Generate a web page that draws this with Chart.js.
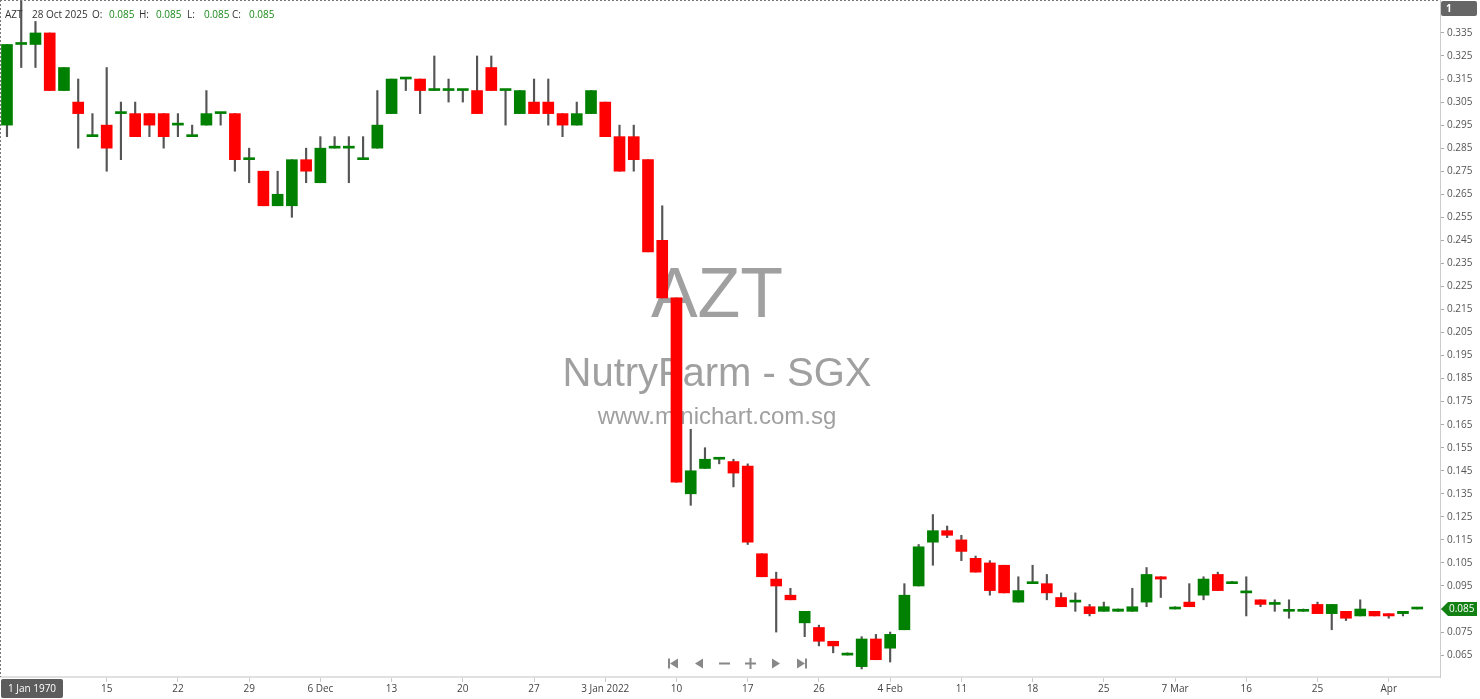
<!DOCTYPE html>
<html>
<head>
  <style>
    html, body { margin: 0; padding: 0; background: #fff; }
    .chart-container { position: relative; width: 1480px; height: 699px; }
  </style>
  <script src="https://cdn.jsdelivr.net/npm/chart.js"></script>
</head>
<body>
  <div class="chart-container">
    <canvas id="priceChart"></canvas>
  </div>

  <script>
    // daily candles, oldest first
    const opens  = [0.295,0.33,0.33,0.335,0.31,0.305,0.29,0.295,0.30,0.30,
                    0.30,0.30,0.295,0.29,0.295,0.30,0.30,0.28,0.275,0.26,
                    0.26,0.28,0.27,0.285,0.285,0.28,0.285,0.30,0.315,0.315,
                    0.31,0.31,0.31,0.31,0.32,0.31,0.30,0.305,0.305,0.30,
                    0.295,0.30,0.305,0.29,0.29,0.28,0.245,0.22,0.135,0.146,
                    0.15,0.149,0.147,0.109,0.098,0.091,0.079,0.077,0.071,0.065,
                    0.06,0.072,0.068,0.076,0.095,0.114,0.119,0.115,0.107,0.105,
                    0.104,0.088,0.096,0.096,0.090,0.088,0.086,0.084,0.084,0.084,
                    0.088,0.099,0.085,0.088,0.091,0.100,0.096,0.092,0.089,0.087,
                    0.084,0.084,0.087,0.083,0.084,0.082,0.084,0.083,0.083,0.085];
    const highs  = [0.33,0.35,0.34,0.335,0.32,0.315,0.30,0.32,0.305,0.305,
                    0.30,0.30,0.30,0.295,0.31,0.30,0.30,0.285,0.275,0.275,
                    0.28,0.285,0.29,0.29,0.29,0.29,0.31,0.315,0.315,0.315,
                    0.325,0.315,0.31,0.325,0.325,0.31,0.31,0.315,0.315,0.30,
                    0.305,0.31,0.305,0.295,0.295,0.28,0.26,0.22,0.163,0.155,
                    0.15,0.15,0.148,0.109,0.101,0.094,0.084,0.078,0.071,0.066,
                    0.073,0.074,0.075,0.096,0.113,0.126,0.121,0.117,0.108,0.106,
                    0.104,0.099,0.104,0.100,0.092,0.092,0.087,0.088,0.085,0.094,
                    0.103,0.099,0.086,0.096,0.099,0.101,0.097,0.099,0.089,0.089,
                    0.089,0.085,0.088,0.087,0.084,0.089,0.084,0.083,0.084,0.085];
    const lows   = [0.29,0.32,0.32,0.31,0.31,0.285,0.29,0.275,0.28,0.29,
                    0.29,0.285,0.29,0.29,0.295,0.295,0.275,0.27,0.26,0.26,
                    0.255,0.27,0.27,0.285,0.27,0.28,0.285,0.30,0.31,0.30,
                    0.31,0.305,0.305,0.30,0.31,0.295,0.30,0.30,0.295,0.29,
                    0.295,0.30,0.29,0.275,0.275,0.24,0.22,0.14,0.13,0.146,
                    0.148,0.138,0.113,0.099,0.075,0.089,0.073,0.069,0.066,0.065,
                    0.059,0.063,0.062,0.076,0.095,0.104,0.116,0.106,0.101,0.091,
                    0.092,0.088,0.096,0.089,0.086,0.084,0.082,0.084,0.084,0.084,
                    0.086,0.090,0.085,0.086,0.089,0.093,0.096,0.082,0.086,0.084,
                    0.081,0.084,0.083,0.076,0.080,0.082,0.082,0.081,0.082,0.085];
    const closes = [0.33,0.33,0.335,0.31,0.32,0.30,0.29,0.285,0.30,0.29,
                    0.295,0.29,0.295,0.29,0.30,0.30,0.28,0.28,0.26,0.265,
                    0.28,0.275,0.285,0.285,0.285,0.28,0.295,0.315,0.315,0.31,
                    0.31,0.31,0.31,0.30,0.31,0.31,0.31,0.30,0.30,0.295,
                    0.30,0.31,0.29,0.275,0.28,0.24,0.22,0.14,0.145,0.15,
                    0.15,0.144,0.114,0.099,0.095,0.089,0.084,0.071,0.069,0.065,
                    0.072,0.063,0.074,0.091,0.112,0.119,0.117,0.110,0.101,0.093,
                    0.092,0.093,0.096,0.092,0.086,0.088,0.083,0.086,0.085,0.086,
                    0.100,0.098,0.085,0.086,0.098,0.093,0.096,0.092,0.087,0.087,
                    0.084,0.084,0.083,0.087,0.081,0.085,0.082,0.082,0.084,0.085];

    const xTickIndex  = [7,12,17,22,27,32,37,42,47,52,57,62,67,72,77,82,87,92,97];
    const xTickLabels = ['15','22','29','6 Dec','13','20','27','3 Jan 2022','10','17',
                         '26','4 Feb','11','18','25','7 Mar','16','25','Apr'];
    const yTicks = [0.065,0.075,0.085,0.095,0.105,0.115,0.125,0.135,0.145,0.155,
                    0.165,0.175,0.185,0.195,0.205,0.215,0.225,0.235,0.245,0.255,
                    0.265,0.275,0.285,0.295,0.305,0.315,0.325,0.335];

    const symbol = 'AZT';
    const lastDate = '28 Oct 2025';
    const lastPrice = 0.085;

    const UP = '#008000';
    const DOWN = '#ff0000';

    const bodies = opens.map((o, i) => ({ x: i, y: [Math.min(o, closes[i]), Math.max(o, closes[i])] }));
    const bodyColors = opens.map((o, i) => closes[i] >= o ? UP : DOWN);
    const wicks = lows.map((l, i) => ({ x: i, y: [l, highs[i]] }));

    function tag(ctx, x, y, w, h, r, fill) {
      ctx.fillStyle = fill;
      ctx.beginPath();
      ctx.roundRect(x, y, w, h, r);
      ctx.fill();
    }

    const decorPlugin = {
      id: 'decor',
      beforeDatasetsDraw(chart) {
        const ctx = chart.ctx;
        const cx = 717;
        ctx.save();
        ctx.fillStyle = '#a0a0a0';
        ctx.textAlign = 'center';
        ctx.textBaseline = 'alphabetic';
        ctx.font = '70px "Liberation Sans", Arial, sans-serif';
        ctx.fillText('AZT', cx, 317);
        ctx.font = '40px "Liberation Sans", Arial, sans-serif';
        ctx.fillText('NutryFarm - SGX', cx, 386);
        ctx.font = '24px "Liberation Sans", Arial, sans-serif';
        ctx.fillText('www.minichart.com.sg', cx, 424);
        ctx.restore();
      },
      afterDraw(chart) {
        const ctx = chart.ctx;
        const area = chart.chartArea;
        const yScale = chart.scales.y;
        ctx.save();

        // dotted frame top and left
        ctx.strokeStyle = '#777';
        ctx.lineWidth = 1;
        ctx.setLineDash([2, 2]);
        ctx.beginPath();
        ctx.moveTo(0, 0.5); ctx.lineTo(area.right, 0.5);
        ctx.moveTo(0.5, 0); ctx.lineTo(0.5, area.bottom);
        ctx.stroke();
        ctx.setLineDash([]);

        // header line
        ctx.font = '10px "Open Sans", sans-serif';
        ctx.textBaseline = 'middle';
        ctx.textAlign = 'left';
        const hy = 15;
        ctx.fillStyle = '#333';
        ctx.fillText(symbol, 5, hy);
        ctx.fillText(lastDate, 32, hy);
        const parts = [['O:', 92, opens], ['H:', 139, highs], ['L:', 187, lows], ['C:', 232, closes]];
        parts.forEach(([k, x, arr]) => {
          ctx.fillStyle = '#333';
          ctx.fillText(k, x, hy);
          ctx.fillStyle = '#1a8a1a';
          ctx.fillText(arr[arr.length - 1].toFixed(3), x + 17, hy);
        });

        // "1" box top right
        tag(ctx, 1441, 1, 36, 15, 2, '#666');
        ctx.fillStyle = '#fff';
        ctx.font = 'bold 10px "Open Sans", sans-serif';
        ctx.fillText('1', 1446, 9);

        // last price tag
        const py = yScale.getPixelForValue(lastPrice);
        ctx.fillStyle = '#128012';
        ctx.beginPath();
        ctx.moveTo(1441, py);
        ctx.lineTo(1448, py - 7);
        ctx.lineTo(1477, py - 7);
        ctx.lineTo(1477, py + 7);
        ctx.lineTo(1448, py + 7);
        ctx.closePath();
        ctx.fill();
        ctx.fillStyle = '#fff';
        ctx.font = '10px "Open Sans", sans-serif';
        ctx.fillText(lastPrice.toFixed(3), 1449, py);

        // date box bottom left
        tag(ctx, 1, 679, 62, 19, 2, '#5c5c5c');
        ctx.fillStyle = '#fff';
        ctx.font = '10px "Open Sans", sans-serif';
        ctx.textAlign = 'center';
        ctx.fillText('1 Jan 1970', 32, 689);

        // navigation buttons
        ctx.fillStyle = '#888';
        const ny = 663.5;
        ctx.fillRect(668, ny - 5, 2, 10);
        ctx.beginPath(); ctx.moveTo(678, ny - 5); ctx.lineTo(670, ny); ctx.lineTo(678, ny + 5); ctx.fill();
        ctx.beginPath(); ctx.moveTo(703, ny - 5); ctx.lineTo(695, ny); ctx.lineTo(703, ny + 5); ctx.fill();
        ctx.fillRect(719, ny - 1, 11, 2);
        ctx.fillRect(745, ny - 1, 11, 2);
        ctx.fillRect(749.5, ny - 5.5, 2, 11);
        ctx.beginPath(); ctx.moveTo(772, ny - 5); ctx.lineTo(780, ny); ctx.lineTo(772, ny + 5); ctx.fill();
        ctx.beginPath(); ctx.moveTo(797, ny - 5); ctx.lineTo(805, ny); ctx.lineTo(797, ny + 5); ctx.fill();
        ctx.fillRect(805, ny - 5, 2, 10);

        ctx.restore();
      }
    };

    const ctx = document.getElementById('priceChart').getContext('2d');
    new Chart(ctx, {
      type: 'bar',
      data: {
        datasets: [
          {
            label: 'body',
            data: bodies,
            backgroundColor: bodyColors,
            barThickness: 11,
            minBarLength: 2,
            grouped: false
          },
          {
            label: 'wick',
            data: wicks,
            backgroundColor: '#555',
            barThickness: 1.5,
            grouped: false
          }
        ]
      },
      options: {
        responsive: true,
        maintainAspectRatio: false,
        animation: false,
        layout: { padding: 0 },
        plugins: {
          legend: { display: false },
          tooltip: { enabled: false }
        },
        scales: {
          x: {
            type: 'linear',
            position: 'bottom',
            offset: false,
            min: -0.49,
            max: 100.6,
            afterBuildTicks: (scale) => {
              scale.ticks = xTickIndex.map(v => ({ value: v }));
            },
            afterFit: (scale) => {
              scale.height = 22;
              scale.paddingLeft = 0;
              scale.paddingRight = 0;
            },
            grid: { offset: false, drawOnChartArea: false, drawTicks: true, tickLength: 5, color: '#ccc' },
            border: { display: true, color: '#e0e0e0', width: 2 },
            ticks: {
              autoSkip: false,
              maxRotation: 0,
              padding: 1,
              color: '#444',
              font: { family: '"Open Sans", sans-serif', size: 10 },
              callback: (v, i) => xTickLabels[i]
            }
          },
          y: {
            type: 'linear',
            position: 'right',
            min: 0.0555,
            max: 0.3493,
            afterBuildTicks: (scale) => {
              scale.ticks = yTicks.map(v => ({ value: v }));
            },
            afterFit: (scale) => {
              scale.width = 40;
              scale.paddingTop = 0;
              scale.paddingBottom = 0;
            },
            grid: { drawOnChartArea: false, drawTicks: true, tickLength: 4, color: '#aaa' },
            border: { display: true, color: '#ccc', width: 1 },
            ticks: {
              padding: 3,
              color: '#555',
              font: { family: '"Open Sans", sans-serif', size: 10 },
              callback: (v) => Number(v).toFixed(3)
            }
          }
        }
      },
      plugins: [decorPlugin]
    });
  </script>
</body>
</html>
